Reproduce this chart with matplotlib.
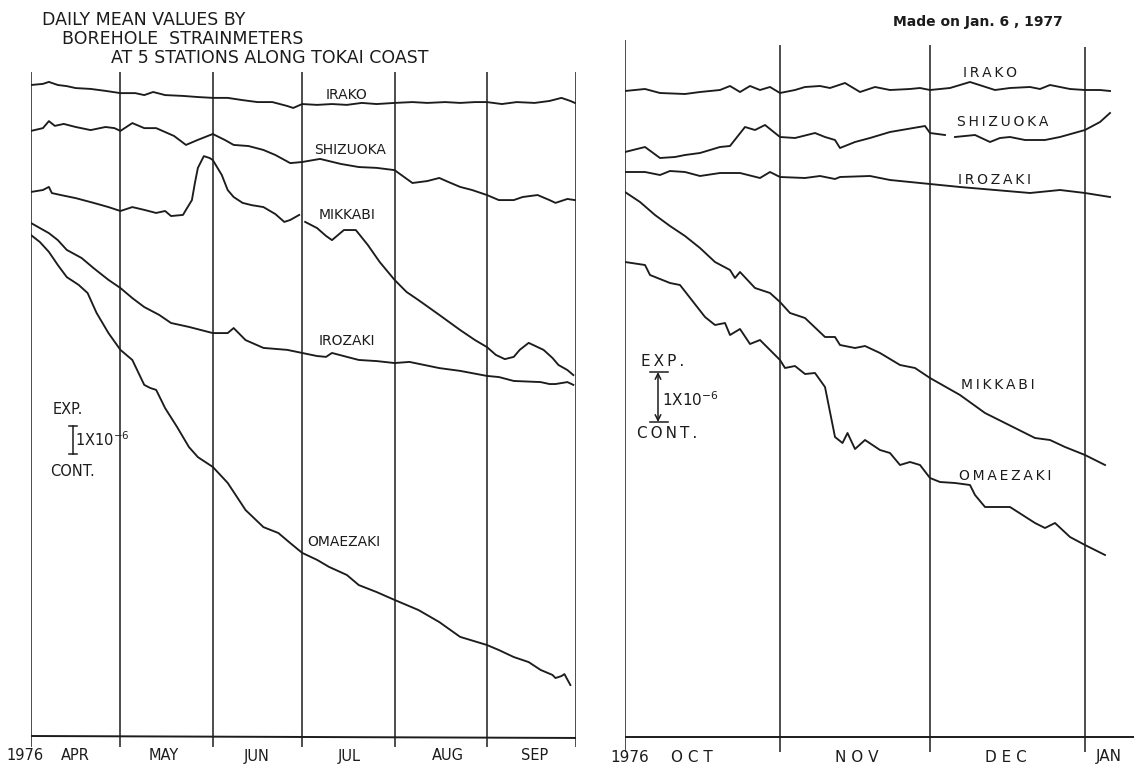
import numpy as np
import matplotlib
matplotlib.use("Agg")
import matplotlib.pyplot as plt

# strain values in units of 1e-6 (arbitrary offset per station), days since start of period
# --- Apr 1 - Sep 30, 1976 (day 0 = Apr 1) ---
apr_months = ["APR", "MAY", "JUN", "JUL", "AUG", "SEP"]
apr_month_days = [0, 30, 61, 91, 122, 153, 183]

irako_1_d = [0, 4, 6, 9, 12, 15, 20, 25, 30, 35, 38, 41, 45, 51, 56, 61, 66, 71, 76, 81, 86, 88,
             91, 96, 101, 106, 111, 116, 122, 128, 133, 139, 144, 149, 153, 158, 163, 169, 174, 178, 181, 182.5]
irako_1_v = [23.25, 23.29, 23.36, 23.25, 23.21, 23.14, 23.11, 23.04, 22.96, 22.96, 22.89, 23.0, 22.89, 22.86,
             22.82, 22.79, 22.79, 22.71, 22.64, 22.64, 22.5, 22.43, 22.57, 22.54, 22.57, 22.54, 22.61, 22.57,
             22.61, 22.64, 22.61, 22.64, 22.61, 22.64, 22.64, 22.57, 22.64, 22.61, 22.68, 22.79, 22.68, 22.61]

shizuoka_1_d = [0, 4, 6, 8, 11, 15, 20, 25, 28, 30, 34, 38, 42, 45, 48, 52, 56, 61, 65, 68, 73, 78, 82, 87,
                91, 97, 104, 110, 116, 122, 128, 133, 137, 140, 144, 148, 153, 157, 162, 165, 170, 174, 176, 180, 182.5]
shizuoka_1_v = [21.61, 21.71, 21.96, 21.79, 21.86, 21.75, 21.64, 21.75, 21.71, 21.61, 21.89, 21.71, 21.71,
                21.57, 21.43, 21.11, 21.29, 21.5, 21.29, 21.11, 21.07, 20.93, 20.75, 20.46, 20.5, 20.61, 20.43,
                20.32, 20.29, 20.21, 19.75, 19.82, 19.93, 19.79, 19.61, 19.5, 19.32, 19.14, 19.14, 19.25, 19.32,
                19.14, 19.04, 19.18, 19.14]

mikkabi_1_d = [0, 4, 6, 7, 10, 15, 21, 26, 30, 34, 38, 42, 45, 47, 51, 52, 54, 55, 56, 58, 60, 61, 64, 66,
               68, 71, 74, 78, 82, 85, 87, 90, np.nan, 92, 96, 99, 101, 103, 105, 109, 113, 117, 122, 126, 130,
               137, 144, 149, 153, 156, 159, 162, 164, 167, 170, 172, 175, 177, 180, 182]
mikkabi_1_v = [19.43, 19.5, 19.61, 19.39, 19.32, 19.21, 19.04, 18.89, 18.75, 18.89, 18.79, 18.68, 18.75,
               18.57, 18.61, 18.79, 19.14, 19.75, 20.29, 20.71, 20.64, 20.57, 20.04, 19.5, 19.25, 19.04,
               18.96, 18.89, 18.64, 18.36, 18.43, 18.61, np.nan, 18.36, 18.14, 17.86, 17.71, 17.89, 18.07,
               18.07, 17.54, 16.93, 16.29, 15.86, 15.57, 15.04, 14.5, 14.14, 13.89, 13.61, 13.46, 13.54,
               13.79, 14.04, 13.89, 13.79, 13.5, 13.25, 13.07, 12.89]

irozaki_1_d = [0, 3, 6, 9, 12, 17, 21, 26, 30, 34, 38, 43, 47, 53, 61, 66, 68, 72, 78, 86, 91, 96, 99, 101,
               106, 110, 116, 122, 127, 137, 144, 153, 157, 162, 171, 174, 176, 180, 182]
irozaki_1_v = [18.32, 18.14, 17.96, 17.71, 17.36, 17.07, 16.71, 16.29, 16.0, 15.64, 15.32, 15.04, 14.75,
               14.61, 14.39, 14.39, 14.57, 14.14, 13.86, 13.79, 13.68, 13.57, 13.54, 13.68, 13.54, 13.43,
               13.39, 13.32, 13.36, 13.14, 13.04, 12.86, 12.82, 12.68, 12.64, 12.57, 12.57, 12.64, 12.54]

omaezaki_1_d = [0, 3, 6, 9, 12, 16, 19, 22, 26, 30, 34, 38, 40, 42, 44, 45, 49, 53, 56, 61, 66, 72, 78, 83,
                87, 91, 96, 100, 106, 110, 116, 122, 130, 137, 144, 153, 157, 162, 167, 171, 175, 176, 178, 179, 181]
omaezaki_1_v = [17.89, 17.64, 17.29, 16.82, 16.39, 16.11, 15.82, 15.11, 14.39, 13.79, 13.43, 12.54, 12.43,
                12.36, 11.93, 11.71, 11.04, 10.32, 9.96, 9.61, 9.04, 8.07, 7.46, 7.25, 6.89, 6.54, 6.29, 6.04,
                5.75, 5.39, 5.14, 4.86, 4.5, 4.07, 3.54, 3.25, 3.07, 2.82, 2.64, 2.36, 2.18, 2.07, 2.14, 2.21, 1.82]

# --- Oct 1, 1976 - Jan 6, 1977 (day 0 = Oct 1) ---
oct_months = ["O C T", "N O V", "D E C", "JAN"]
oct_month_days = [0, 31, 61, 92]

irako_2_d = [0, 4, 7, 12, 15, 19, 21, 23, 25, 27, 29, 31, 34, 36, 39, 41, 44, 47, 50, 53, 57, 59, 61, 65,
             69, 74, 77, 81, 83, 85, 89, 92, 95, 97]
irako_2_v = [12.92, 12.96, 12.88, 12.86, 12.9, 12.94, 13.02, 12.9, 13.02, 12.94, 13.0, 12.88, 12.94, 13.0,
             13.02, 12.98, 13.08, 12.9, 13.0, 12.94, 12.96, 12.98, 12.94, 12.98, 13.1, 12.94, 12.98, 13.0,
             12.96, 13.04, 12.96, 12.94, 12.94, 12.92]

shizuoka_2_d = [0, 4, 7, 10, 12, 15, 17, 19, 21, 24, 26, 28, 31, 34, 38, 40, 42, 43, 46, 49, 53, 60, 61, 64,
                np.nan, 66, 70, 73, 75, 77, 80, 84, 87, 92, 95, 97]
shizuoka_2_v = [11.7, 11.8, 11.58, 11.6, 11.64, 11.68, 11.74, 11.8, 11.82, 12.2, 12.14, 12.24, 12.0, 11.98,
                12.08, 12.0, 11.94, 11.78, 11.9, 11.98, 12.1, 12.22, 12.08, 12.04, np.nan, 12.0, 12.04, 11.9,
                11.98, 12.0, 11.94, 11.94, 12.0, 12.14, 12.3, 12.48]

irozaki_2_d = [0, 4, 7, 9, 12, 15, 19, 23, 27, 29, 31, 36, 39, 42, 43, 49, 53, 61, 67, 74, 81, 87, 92, 97]
irozaki_2_v = [11.3, 11.3, 11.24, 11.32, 11.3, 11.22, 11.28, 11.28, 11.18, 11.3, 11.2, 11.18, 11.22, 11.16,
               11.2, 11.22, 11.14, 11.06, 11.0, 10.94, 10.88, 10.94, 10.88, 10.8]

mikkabi_2_d = [0, 3, 6, 9, 12, 15, 18, 21, 22, 23, 26, 29, 31, 33, 36, 40, 42, 43, 46, 48, 51, 55, 58, 61,
               67, 72, 76, 82, 85, 88, 92, 96]
mikkabi_2_v = [10.9, 10.7, 10.44, 10.22, 10.02, 9.78, 9.5, 9.34, 9.18, 9.3, 8.98, 8.88, 8.7, 8.48, 8.38, 8.0,
               8.0, 7.84, 7.78, 7.82, 7.68, 7.44, 7.38, 7.18, 6.84, 6.48, 6.28, 5.98, 5.94, 5.8, 5.64, 5.44]

omaezaki_2_d = [0, 4, 5, 9, 11, 16, 18, 20, 21, 23, 25, 27, 31, 32, 34, 36, 38, 40, 42, 43.5, 44.5, 46, 48,
                51, 53, 55, 57, 59, 61, 63, 66, 69, 70, 72, 77, 82, 84, 86, 89, 92, 96]
omaezaki_2_v = [9.5, 9.44, 9.24, 9.08, 9.04, 8.4, 8.24, 8.28, 8.04, 8.16, 7.86, 7.94, 7.54, 7.38, 7.42, 7.26,
                7.28, 7.0, 6.0, 5.88, 6.08, 5.76, 5.94, 5.74, 5.68, 5.44, 5.5, 5.44, 5.18, 5.1, 5.08, 5.04,
                4.84, 4.6, 4.6, 4.28, 4.18, 4.28, 4.0, 3.84, 3.64]

W, H = 1134, 773
INK = "#1c1c1c"
plt.rcParams["font.family"] = ["DejaVu Sans"]

fig = plt.figure(figsize=(W / 100, H / 100), dpi=100)
fig.patch.set_facecolor("white")


def fpos(x, y):
    return x / W, 1 - y / H


# left panel: 2.98 px per day, 28 px per 1e-6
axL = fig.add_axes([31 / W, 0, 183 * 2.98 / W, 1])
axL.set_xlim(0, 183)
axL.set_ylim(-37 / 28, 736 / 28)
# right panel: 5 px per day, 50 px per 1e-6
axR = fig.add_axes([625 / W, 0, (W - 625) / W, 1])
axR.set_xlim(0, (W - 625) / 5)
axR.set_ylim(-36 / 50, 737 / 50)
for ax in (axL, axR):
    ax.axis("off")

lw = 1.35
series_1 = [(irako_1_d, irako_1_v), (shizuoka_1_d, shizuoka_1_v), (mikkabi_1_d, mikkabi_1_v),
            (irozaki_1_d, irozaki_1_v), (omaezaki_1_d, omaezaki_1_v)]
for d, v in series_1:
    axL.plot(d, v, color=INK, lw=lw, solid_joinstyle="round")
series_2 = [(irako_2_d, irako_2_v), (shizuoka_2_d, shizuoka_2_v), (irozaki_2_d, irozaki_2_v),
            (mikkabi_2_d, mikkabi_2_v), (omaezaki_2_d, omaezaki_2_v)]
for d, v in series_2:
    axR.plot(d, v, color=INK, lw=lw, solid_joinstyle="round")

# month boundaries and base line
axL.vlines(apr_month_days, -11 / 28, 664 / 28, color=INK, lw=1.1)
axL.plot([0, 183], [0, -0.07], color=INK, lw=1.4)
axR.vlines(oct_month_days, -15 / 50, [697 / 50, 692 / 50, 692 / 50, 690 / 50], color=INK, lw=1.1)
axR.plot([0, (W - 625) / 5], [0, 0], color=INK, lw=1.4)

# station labels
lab = dict(color=INK, fontsize=10, ha="center", va="center")
axL.text(106, 22.89, "IRAKO", **lab)
axL.text(107, 20.93, "SHIZUOKA", **lab)
axL.text(106, 18.61, "MIKKABI", **lab)
axL.text(106, 14.11, "IROZAKI", **lab)
axL.text(105, 6.93, "OMAEZAKI", **lab)

sp = "\u2009"
axR.text(73, 13.28, sp.join("IRAKO"), **lab)
axR.text(75.6, 12.30, sp.join("SHIZUOKA"), **lab)
axR.text(74, 11.14, sp.join("IROZAKI"), **lab)
axR.text(74.6, 7.04, sp.join("MIKKABI"), **lab)
axR.text(76, 5.22, sp.join("OMAEZAKI"), **lab)

# scale bars
axL.plot([14, 14], [10.07, 11.07], color=INK, lw=1.1)
axL.plot([12.7, 15.3], [11.07, 11.07], color=INK, lw=1.1)
axL.plot([12.7, 15.3], [10.07, 10.07], color=INK, lw=1.1)
axR.annotate("", xy=(6.6, 7.3), xytext=(6.6, 6.3),
             arrowprops=dict(arrowstyle="<->", color=INK, lw=1.1, shrinkA=0, shrinkB=0))
axR.plot([5, 8.6], [7.3, 7.3], color=INK, lw=1.1)
axR.plot([5, 8.6], [6.3, 6.3], color=INK, lw=1.1)

txt = dict(color=INK, ha="left", va="center")
fig.text(*fpos(53, 410), "EXP.", fontsize=10.5, **txt)
fig.text(*fpos(75, 440), r"1X10$^{-6}$", fontsize=10.5, **txt)
fig.text(*fpos(50, 472), "CONT.", fontsize=10.5, **txt)
fig.text(*fpos(641, 362), sp.join("EXP."), fontsize=11, **txt)
fig.text(*fpos(662, 400), r"1X10$^{-6}$", fontsize=11, **txt)
fig.text(*fpos(637, 433), sp.join("CONT."), fontsize=11, **txt)

# titles
fig.text(*fpos(42, 20), "DAILY MEAN VALUES BY", fontsize=12.5, **txt)
fig.text(*fpos(62, 39), "BOREHOLE  STRAINMETERS", fontsize=12.5, **txt)
fig.text(*fpos(111, 58), "AT 5 STATIONS ALONG TOKAI COAST", fontsize=12.5, **txt)
fig.text(*fpos(893, 22), "Made on Jan. 6 , 1977", fontsize=10, fontweight="bold", **txt)

# month labels
mlab = dict(color=INK, ha="center", va="center")
fig.text(*fpos(25, 756), "1976", fontsize=10.5, **mlab)
for x, m in zip([75, 164, 257, 349, 448, 535], apr_months):
    fig.text(*fpos(x, 756), m, fontsize=10.5, **mlab)
fig.text(*fpos(630, 757), "1976", fontsize=11, **mlab)
for x, m in zip([692, 857, 1006, 1109], oct_months):
    fig.text(*fpos(x, 757), m, fontsize=11, **mlab)

fig.savefig("out.png", dpi=100, facecolor="white")
